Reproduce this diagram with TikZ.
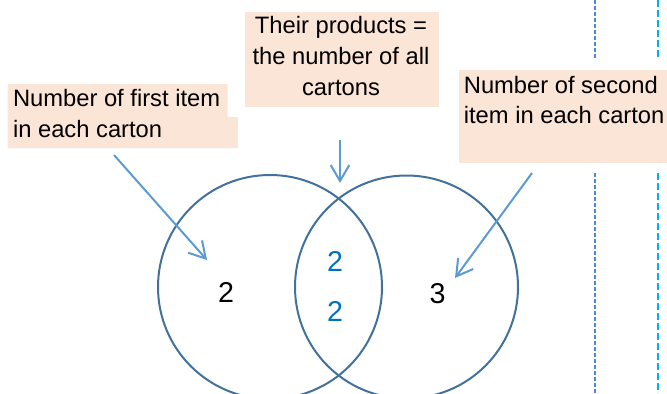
\documentclass[tikz,border=0pt]{standalone}
\usepackage{fontspec}
\setmainfont{Liberation Sans}
\usetikzlibrary{arrows.meta}
\definecolor{boxfill}{HTML}{FBE5D6}
\definecolor{circ}{HTML}{41719C}
\definecolor{arr}{HTML}{5B9BD5}
\definecolor{numblue}{HTML}{0070C0}
\definecolor{dashA}{HTML}{4A86E8}
\definecolor{dashB}{HTML}{00B0F0}
\tikzset{
  lbl/.style={inner sep=0pt, font=\fontsize{17.8}{21}\selectfont},
  num/.style={inner sep=0pt, anchor=base, font=\fontsize{21.5}{25}\selectfont},
  venn/.style={draw=circ, line width=1.5pt},
  pointer/.style={draw=arr, line width=1.5pt, -{Straight Barb[length=12pt,width=14pt]}},
  boxbg/.style={fill=boxfill, draw=none},
}
\begin{document}
\begin{tikzpicture}[x=0.75pt,y=-0.75pt]
\useasboundingbox (0,0) rectangle (667,393);
% boxes
\fill[boxfill] (7.7,84) -- (227.6,84) -- (227.6,117) -- (238,117) -- (238,148) -- (7.7,148) -- cycle;
\node[boxbg, minimum width=145.5pt, minimum height=71.25pt, inner sep=0pt, anchor=north west] (tbox) at (244.6,12) {};
\node[boxbg, minimum width=156.4pt, minimum height=69.75pt, inner sep=0pt, anchor=north west] (rbox) at (458.5,70) {};
% texts
\node[lbl, anchor=base west] (l1) at (12.8,106) {Number of first item};
\node[lbl, anchor=base west] (l2) at (12.8,137) {in each carton};
\node[lbl, anchor=base] (t1) at (341,33.3) {Their products =};
\node[lbl, anchor=base] (t2) at (341,64.5) {the number of all};
\node[lbl, anchor=base] (t3) at (341,95.5) {cartons};
\node[lbl, anchor=base west] (r1) at (463.6,93) {Number of second};
\node[lbl, anchor=base west] (r2) at (463.6,123.5) {item in each carton};
% dashed lines
\draw[dashA, line width=1.2pt, dash pattern=on 3pt off 1.5pt] (595,0) -- (595,59);
\draw[dashA, line width=1.2pt, dash pattern=on 3pt off 1.5pt] (595,173) -- (595,393);
\draw[dashB, line width=1.5pt, dash pattern=on 5pt off 2.5pt] (658,0) -- (658,59);
\draw[dashB, line width=1.5pt, dash pattern=on 5pt off 2.5pt] (658,173) -- (658,393);
% circles
\node[venn, circle, minimum size=168pt, inner sep=0pt] (cl) at (270,287) {};
\node[venn, circle, minimum size=167.25pt, inner sep=0pt] (cr) at (406.5,287) {};
% numbers
\node[num] (n1) at (226,302) {2};
\node[num, text=numblue] (n2) at (335,271.7) {2};
\node[num, text=numblue] (n3) at (335,321.7) {2};
\node[num] (n4) at (437.5,303) {3};
% arrows
\coordinate (la) at (114,155);
\coordinate (lt) at (207,260);
\coordinate (ta) at (340,140);
\coordinate (tt) at (340,183);
\coordinate (ra) at (532,173);
\coordinate (rt) at (455,278);
\draw[pointer] (la) -- (lt);
\draw[pointer] (ta) -- (tt);
\draw[pointer] (ra) -- (rt);
\end{tikzpicture}
\end{document}
